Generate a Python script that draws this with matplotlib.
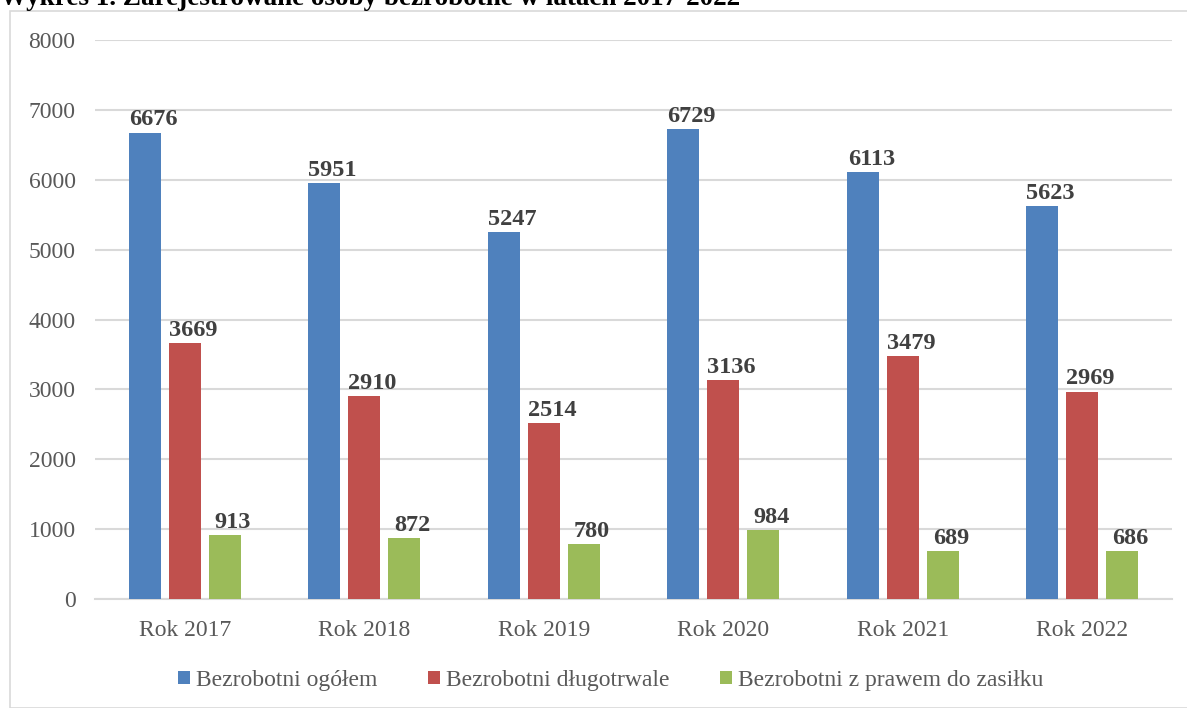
import matplotlib
matplotlib.use('Agg')
import matplotlib.pyplot as plt
from matplotlib.patches import Rectangle
import numpy as np

plt.rcParams['font.family'] = ['Liberation Serif', 'DejaVu Serif']

years = ['Rok 2017', 'Rok 2018', 'Rok 2019', 'Rok 2020', 'Rok 2021', 'Rok 2022']
ogolem = [6676, 5951, 5247, 6729, 6113, 5623]
dlugotrwale = [3669, 2910, 2514, 3136, 3479, 2969]
z_zasilkiem = [913, 872, 780, 984, 689, 686]
series_names = ['Bezrobotni ogółem', 'Bezrobotni długotrwale', 'Bezrobotni z prawem do zasiłku']
colors = ['#4f81bd', '#c0504d', '#9bbb59']

W, H = 1187, 708
fig = plt.figure(figsize=(W / 100, H / 100), dpi=100)
ax = fig.add_axes([95 / W, 1 - 599 / H, (1172 - 95) / W, (599 - 40) / H])

x = np.arange(len(years))
width = 0.178
step = 0.222
for i, (vals, name, c) in enumerate(zip([ogolem, dlugotrwale, z_zasilkiem], series_names, colors)):
    pos = x + (i - 1) * step
    ax.bar(pos, vals, width, color=c, label=name, zorder=3)
    for p, v in zip(pos, vals):
        ax.annotate(str(v), (p, v), xytext=(6, 1.5), textcoords='offset points',
                    ha='center', va='bottom', fontsize=17.5, fontweight='bold',
                    color='#404040', zorder=4)

ax.set_xlim(-0.5, len(years) - 0.5)
ax.set_ylim(0, 8000)
ax.set_yticks(range(0, 8001, 1000))
ax.set_xticks(x)
ax.set_xticklabels(years)
ax.yaxis.grid(True, color='#d9d9d9', linewidth=1.5, zorder=0)
ax.set_axisbelow(True)
for s in ['top', 'right', 'left']:
    ax.spines[s].set_visible(False)
ax.spines['bottom'].set_color('#d9d9d9')
ax.spines['bottom'].set_linewidth(1.5)
ax.tick_params(axis='both', length=0, labelsize=17, colors='#595959', pad=14)
ax.tick_params(axis='x', pad=15)

ax.legend(loc='center', bbox_to_anchor=(0.479, -0.146), ncol=3, frameon=False,
          fontsize=17, labelcolor='#595959', handlelength=0.5, handleheight=0.5,
          handletextpad=0.25, columnspacing=2.15)

# ramka wykresu
fig.patches.append(Rectangle((10 / W, 0), 1.2, 1 - 11 / H, transform=fig.transFigure,
                             fill=False, edgecolor='#d9d9d9', linewidth=1.2))

fig.text(0, 1 - 5 / H, 'Wykres 1. Zarejestrowane osoby bezrobotne w latach 2017-2022',
         fontsize=19.5, fontweight='bold', ha='left', va='baseline', color='black')

fig.savefig('out.png', dpi=100)
